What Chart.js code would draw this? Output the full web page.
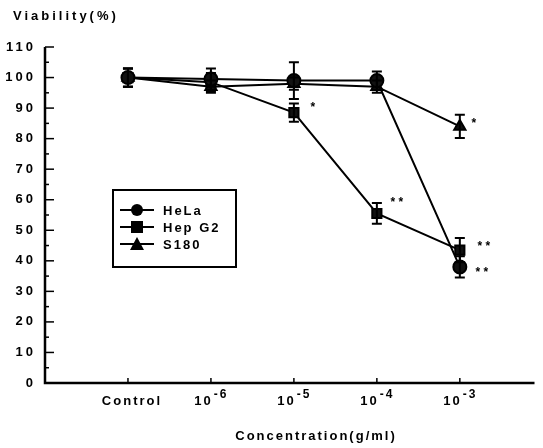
<!DOCTYPE html>
<html>
<head>
<meta charset="utf-8">
<script src="https://cdn.jsdelivr.net/npm/chart.js@4.4.1/dist/chart.umd.min.js"></script>
<style>
html,body{margin:0;padding:0;background:#fff;}
#wrap{width:543px;height:448px;position:relative;}
</style>
</head>
<body>
<div id="wrap"><canvas id="c" width="543" height="448"></canvas></div>
<script>
// ---- data ----
const categories = ['Control', '10|-6', '10|-5', '10|-4', '10|-3'];
const seriesNames = ['HeLa', 'Hep G2', 'S180'];
const helaValues = [100, 99.5, 99, 99, 38];
const helaErrors = [3, 3.5, 6, 3, 3.5];
const hepg2Values = [100, 98.5, 88.5, 55.5, 43.5];
const hepg2Errors = [3, 3, 3, 3.4, 4];
const s180Values = [100, 97, 98, 97, 84];
const s180Errors = [3, 2, 2, 2, 3.8];
const yTicks = [0, 10, 20, 30, 40, 50, 60, 70, 80, 90, 100, 110];
// significance marks: [series index, category index, text]
const marks = [[1, 2, '*'], [1, 3, '* *'], [1, 4, '* *'], [0, 4, '* *'], [2, 4, '*']];
const markOffsets = [[19, -7], [20, -13], [24, -5], [22, 4], [14, -5]];

const FONT = '"Liberation Sans", Arial, sans-serif';
const pts = v => v.map((y, i) => ({x: i, y: y}));

const errorPlugin = {
  id: 'errbars',
  afterDatasetsDraw(chart) {
    const ctx = chart.ctx, xs = chart.scales.x, ys = chart.scales.y;
    ctx.save();
    ctx.strokeStyle = '#000';
    ctx.lineWidth = 2;
    chart.data.datasets.forEach(ds => {
      ds.data.forEach((p, i) => {
        const e = ds.errors[i];
        const x = xs.getPixelForValue(p.x);
        const y1 = ys.getPixelForValue(p.y + e), y2 = ys.getPixelForValue(p.y - e);
        ctx.beginPath();
        ctx.moveTo(x, y1); ctx.lineTo(x, y2);
        ctx.moveTo(x - 5, y1); ctx.lineTo(x + 5, y1);
        ctx.moveTo(x - 5, y2); ctx.lineTo(x + 5, y2);
        ctx.stroke();
      });
    });
    ctx.restore();
  }
};

const decorPlugin = {
  id: 'decor',
  afterDraw(chart) {
    const ctx = chart.ctx, xs = chart.scales.x, ys = chart.scales.y;
    const ca = chart.chartArea;
    ctx.save();
    ctx.fillStyle = '#000';
    ctx.strokeStyle = '#000';
    // axes lines
    ctx.lineWidth = 2.5;
    ctx.beginPath();
    ctx.moveTo(ca.left, ys.getPixelForValue(110));
    ctx.lineTo(ca.left, ys.getPixelForValue(0));
    ctx.lineTo(ca.right, ys.getPixelForValue(0));
    ctx.stroke();
    // y ticks (inside)
    ctx.lineWidth = 1.5;
    for (let v = 0; v <= 110; v += 5) {
      const y = ys.getPixelForValue(v);
      const len = (v % 10 === 0) ? 9 : 4;
      ctx.beginPath(); ctx.moveTo(ca.left, y); ctx.lineTo(ca.left + len, y); ctx.stroke();
    }
    // x ticks (inside)
    categories.forEach((c, i) => {
      const x = xs.getPixelForValue(i), y = ys.getPixelForValue(0);
      ctx.beginPath(); ctx.moveTo(x, y); ctx.lineTo(x, y - 5); ctx.stroke();
    });
    // y labels
    ctx.font = 'bold 13px ' + FONT;
    ctx.letterSpacing = '3px';
    ctx.textAlign = 'right';
    ctx.textBaseline = 'middle';
    yTicks.forEach(v => {
      ctx.fillText(String(v), ca.left - 9, ys.getPixelForValue(v));
    });
    // x labels
    ctx.letterSpacing = '2px';
    ctx.textBaseline = 'alphabetic';
    categories.forEach((c, i) => {
      const x = xs.getPixelForValue(i);
      const yb = ys.getPixelForValue(0) + 22;
      if (c.indexOf('|') < 0) {
        ctx.font = 'bold 13px ' + FONT;
        ctx.textAlign = 'center';
        ctx.fillText(c, x + 4, yb);
      } else {
        const [base, exp] = c.split('|');
        ctx.font = 'bold 13px ' + FONT;
        const wb = ctx.measureText(base).width;
        ctx.font = 'bold 12px ' + FONT;
        const we = ctx.measureText(exp).width;
        const start = x - (wb + we) / 2;
        ctx.textAlign = 'left';
        ctx.font = 'bold 13px ' + FONT;
        ctx.fillText(base, start, yb);
        ctx.font = 'bold 12px ' + FONT;
        ctx.fillText(exp.replace('-', '\u2011'), start + wb + 1, yb - 7);
      }
    });
    // axis titles
    ctx.font = 'bold 13px ' + FONT;
    ctx.letterSpacing = '3px';
    ctx.textAlign = 'left';
    ctx.fillText('Viability(%)', 13, 20);
    ctx.letterSpacing = '2px';
    ctx.textAlign = 'center';
    ctx.fillText('Concentration(g/ml)', 316, 440);
    // significance marks
    ctx.font = 'bold 12px ' + FONT;
    ctx.letterSpacing = '0px';
    ctx.textBaseline = 'middle';
    ctx.textAlign = 'center';
    marks.forEach((m, k) => {
      const ds = chart.data.datasets[m[0]];
      const p = ds.data[m[1]];
      const x = xs.getPixelForValue(p.x) + markOffsets[k][0];
      const y = ys.getPixelForValue(p.y) + markOffsets[k][1];
      ctx.fillText(m[2], x, y + 2);
    });
    // legend box
    const bx = 113, by = 190, bw = 123, bh = 77;
    ctx.lineWidth = 2;
    ctx.strokeRect(bx, by, bw, bh);
    ctx.font = 'bold 13px ' + FONT;
    ctx.letterSpacing = '2px';
    ctx.textAlign = 'left';
    chart.data.datasets.forEach((ds, i) => {
      const y = by + 20 + i * 17;
      ctx.lineWidth = 2;
      ctx.beginPath(); ctx.moveTo(bx + 7, y); ctx.lineTo(bx + 41, y); ctx.stroke();
      drawMarker(ctx, ds.pointStyle, bx + 24, y, 6);
      ctx.fillText(ds.label, bx + 50, y + 1);
    });
    ctx.restore();
  }
};

function drawMarker(ctx, style, x, y, r) {
  ctx.beginPath();
  if (style === 'circle') {
    ctx.arc(x, y, r, 0, Math.PI * 2);
  } else if (style === 'rect') {
    ctx.rect(x - r, y - r, 2 * r, 2 * r);
  } else {
    ctx.moveTo(x, y - r - 1); ctx.lineTo(x + r + 1, y + r); ctx.lineTo(x - r - 1, y + r); ctx.closePath();
  }
  ctx.fill();
}

const mk = (label, vals, errs, style) => ({
  label: label, data: pts(vals), errors: errs,
  showLine: true, borderColor: '#000', backgroundColor: '#111',
  pointBackgroundColor: '#111', pointBorderColor: '#000',
  borderWidth: 2, pointStyle: style, pointRadius: 6.5, pointHoverRadius: 6.5,
  tension: 0
});

new Chart(document.getElementById('c'), {
  type: 'scatter',
  data: {
    datasets: [
      mk(seriesNames[0], helaValues, helaErrors, 'circle'),
      mk(seriesNames[1], hepg2Values, hepg2Errors, 'rect'),
      mk(seriesNames[2], s180Values, s180Errors, 'triangle')
    ]
  },
  options: {
    responsive: false,
    animation: false,
    events: [],
    layout: {padding: {left: 45, right: 6, top: 47, bottom: 65}},
    plugins: {legend: {display: false}, tooltip: {enabled: false}},
    scales: {
      x: {type: 'linear', min: -1, max: 4.9,
          grid: {display: false, drawTicks: false}, border: {display: false},
          ticks: {display: false}},
      y: {type: 'linear', min: 0, max: 110,
          grid: {display: false, drawTicks: false}, border: {display: false},
          ticks: {display: false}}
    }
  },
  plugins: [errorPlugin, decorPlugin]
});
</script>
</body>
</html>
